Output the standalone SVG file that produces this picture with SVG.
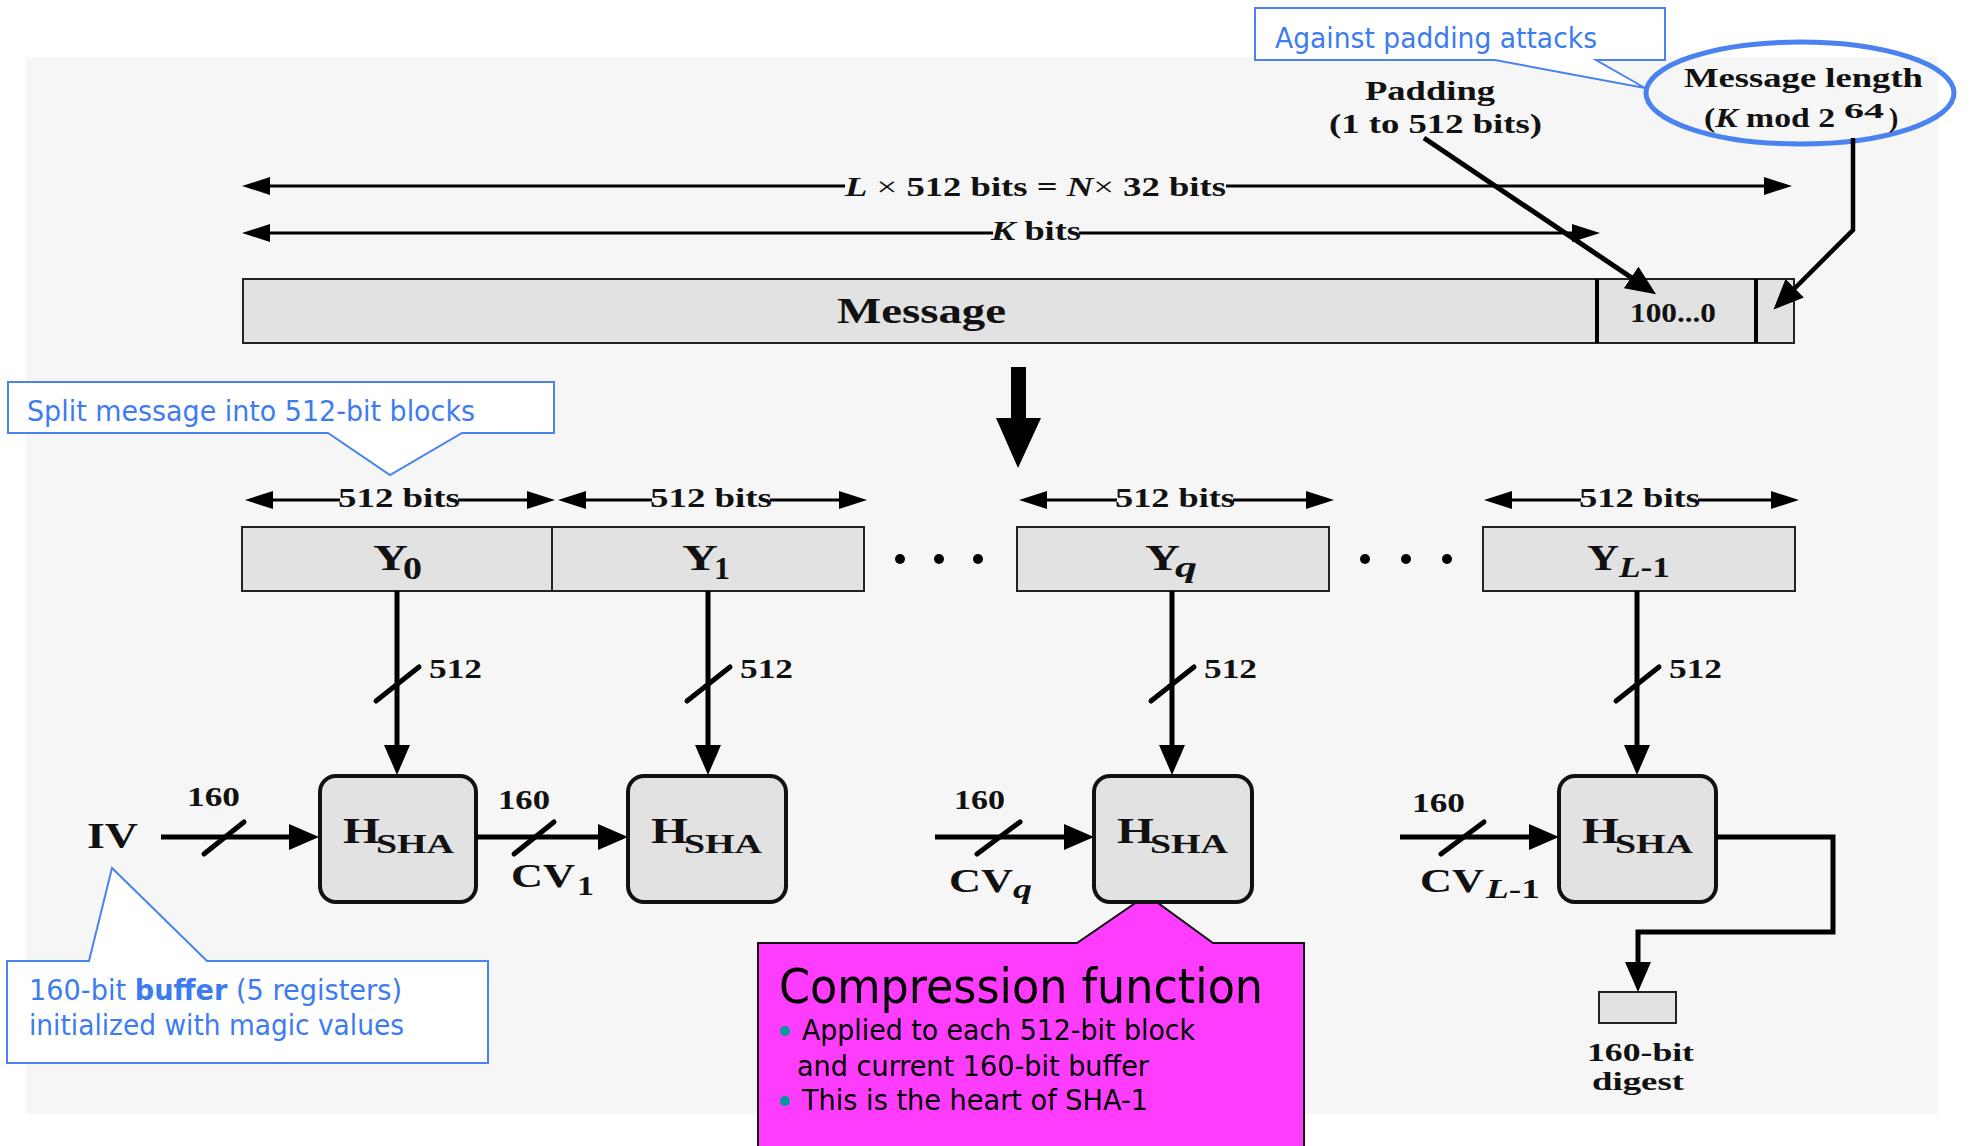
<svg xmlns="http://www.w3.org/2000/svg" width="1971" height="1146" viewBox="0 0 1971 1146">
<style>
.bg{fill:#f6f6f6}
.blk{fill:#e2e2e2;stroke:#222;stroke-width:2}
.hbox{fill:#e2e2e2;stroke:#111;stroke-width:4}
.ser{font-family:"Liberation Serif","Times New Roman",serif;font-weight:bold;fill:#111}
.it{font-style:italic}
.dim{stroke:#000;stroke-width:3;fill:none}
.thick{stroke:#000;stroke-width:5;fill:none}
.slash{stroke:#000;stroke-width:5;stroke-linecap:round}
.call{fill:#fff;stroke:#4a82f0;stroke-width:2}
.ctext{font-family:"DejaVu Sans Condensed","Liberation Sans Narrow","Liberation Sans",sans-serif;fill:#3d7cf0;font-size:28px}
.mtext{font-family:"DejaVu Sans Condensed","Liberation Sans Narrow","Liberation Sans",sans-serif;fill:#000}
</style>
<defs>
<marker id="dimHead" markerUnits="userSpaceOnUse" viewBox="0 0 28 18" markerWidth="28" markerHeight="18" refX="2" refY="9" orient="auto-start-reverse">
<path d="M0,0 L28,9 L0,18 Z" fill="#000"/>
</marker>
<marker id="head" markerUnits="userSpaceOnUse" viewBox="0 0 30 26" markerWidth="30" markerHeight="26" refX="1" refY="13" orient="auto">
<path d="M0,0 L30,13 L0,26 Z" fill="#000"/>
</marker>
</defs>

<rect class="bg" x="26" y="57" width="1912" height="1057"/>

<!-- callouts -->
<g id="callout-padding">
<path class="call" d="M1255,8 H1665 V60 H1596 L1645,88 L1495,60 H1255 Z"/>
<text class="ctext" x="1275" y="48" textLength="322" lengthAdjust="spacingAndGlyphs">Against padding attacks</text>
</g>
<g id="callout-split">
<path class="call" d="M8,382 H554 V433 H462 L390,475 L328,433 H8 Z"/>
<text class="ctext" x="27" y="421" textLength="448" lengthAdjust="spacingAndGlyphs">Split message into 512-bit blocks</text>
</g>
<g id="callout-iv">
<path class="call" d="M7,961 H89 L112,868 L207,961 H488 V1063 H7 Z"/>
<text class="ctext" x="29" y="1000" textLength="373" lengthAdjust="spacingAndGlyphs">160-bit <tspan font-weight="bold">buffer</tspan> (5 registers)</text>
<text class="ctext" x="29" y="1035" textLength="375" lengthAdjust="spacingAndGlyphs">initialized with magic values</text>
</g>
<g id="callout-compression">
<path d="M758,943 H1077 L1147,895 L1213,943 H1304 V1150 H758 Z" fill="#fd3cfd" stroke="#111" stroke-width="2"/>
<text class="mtext" x="779" y="1003" font-size="48" textLength="484" lengthAdjust="spacingAndGlyphs">Compression function</text>
<circle cx="785" cy="1031" r="5" fill="#009a9a"/>
<text class="mtext" x="802" y="1040" font-size="28" textLength="393" lengthAdjust="spacingAndGlyphs">Applied to each 512-bit block</text>
<text class="mtext" x="797" y="1076" font-size="28" textLength="352" lengthAdjust="spacingAndGlyphs">and current 160-bit buffer</text>
<circle cx="785" cy="1101" r="5" fill="#009a9a"/>
<text class="mtext" x="802" y="1110" font-size="28" textLength="346" lengthAdjust="spacingAndGlyphs">This is the heart of SHA-1</text>
</g>

<!-- top labels -->
<g id="msglen-label">
<ellipse cx="1800" cy="93" rx="154" ry="51" fill="none" stroke="#4a82f0" stroke-width="5"/>
<text class="ser" x="1684" y="87" font-size="28" textLength="239" lengthAdjust="spacingAndGlyphs">Message length</text>
<text class="ser" x="1704" y="127" font-size="28" textLength="131" lengthAdjust="spacingAndGlyphs">(<tspan class="it">K</tspan> mod 2</text>
<text class="ser" x="1844" y="118" font-size="20" textLength="40" lengthAdjust="spacingAndGlyphs">64</text>
<text class="ser" x="1889" y="127" font-size="28">)</text>
</g>
<g id="padding-label">
<text class="ser" x="1365" y="100" font-size="27" textLength="130" lengthAdjust="spacingAndGlyphs">Padding</text>
<text class="ser" x="1329" y="133" font-size="27" textLength="213" lengthAdjust="spacingAndGlyphs">(1 to 512 bits)</text>
</g>

<!-- message bar -->
<g id="message">
<rect class="blk" x="243" y="279" width="1551" height="64"/>
<line x1="1597" y1="279" x2="1597" y2="343" stroke="#000" stroke-width="4"/>
<line x1="1756" y1="279" x2="1756" y2="343" stroke="#000" stroke-width="4"/>
<text class="ser" x="837" y="323" font-size="36" textLength="169" lengthAdjust="spacingAndGlyphs">Message</text>
<text class="ser" x="1630" y="322" font-size="28" textLength="86" lengthAdjust="spacingAndGlyphs">100...0</text>
</g>

<!-- blocks -->
<g id="Y0">
<rect class="blk" x="242" y="527" width="310" height="64"/>
<text class="ser" x="373" y="570" font-size="36" textLength="35" lengthAdjust="spacingAndGlyphs">Y</text>
<text class="ser" x="403" y="579" font-size="32" textLength="19" lengthAdjust="spacingAndGlyphs">0</text>
</g>
<g id="Y1">
<rect class="blk" x="552" y="527" width="312" height="64"/>
<text class="ser" x="682" y="570" font-size="36" textLength="36" lengthAdjust="spacingAndGlyphs">Y</text>
<text class="ser" x="714" y="579" font-size="32" textLength="16" lengthAdjust="spacingAndGlyphs">1</text>
</g>
<g id="dots1">
<circle cx="900" cy="559" r="5"/><circle cx="939" cy="559" r="5"/><circle cx="978" cy="559" r="5"/>
</g>
<g id="Yq">
<rect class="blk" x="1017" y="527" width="312" height="64"/>
<text class="ser" x="1145" y="570" font-size="36" textLength="35" lengthAdjust="spacingAndGlyphs">Y</text>
<text class="ser it" x="1175" y="577" font-size="30" textLength="22" lengthAdjust="spacingAndGlyphs">q</text>
</g>
<g id="dots2">
<circle cx="1365" cy="559" r="5"/><circle cx="1406" cy="559" r="5"/><circle cx="1447" cy="559" r="5"/>
</g>
<g id="YL-1">
<rect class="blk" x="1483" y="527" width="312" height="64"/>
<text class="ser" x="1587" y="570" font-size="36" textLength="32" lengthAdjust="spacingAndGlyphs">Y</text>
<text class="ser" x="1619" y="577" font-size="30" textLength="51" lengthAdjust="spacingAndGlyphs"><tspan class="it">L</tspan>-1</text>
</g>

<!-- compression boxes -->
<g id="H1">
<rect class="hbox" x="320" y="776" width="156" height="126" rx="16"/>
<text class="ser" x="343" y="843" font-size="36" textLength="37" lengthAdjust="spacingAndGlyphs">H</text>
<text class="ser" x="376" y="853" font-size="28" textLength="78" lengthAdjust="spacingAndGlyphs">SHA</text>
</g>
<g id="H2">
<rect class="hbox" x="628" y="776" width="158" height="126" rx="16"/>
<text class="ser" x="651" y="843" font-size="36" textLength="37" lengthAdjust="spacingAndGlyphs">H</text>
<text class="ser" x="684" y="853" font-size="28" textLength="78" lengthAdjust="spacingAndGlyphs">SHA</text>
</g>
<g id="Hq">
<rect class="hbox" x="1094" y="776" width="158" height="126" rx="16"/>
<text class="ser" x="1117" y="843" font-size="36" textLength="37" lengthAdjust="spacingAndGlyphs">H</text>
<text class="ser" x="1150" y="853" font-size="28" textLength="78" lengthAdjust="spacingAndGlyphs">SHA</text>
</g>
<g id="HL">
<rect class="hbox" x="1559" y="776" width="157" height="126" rx="16"/>
<text class="ser" x="1582" y="843" font-size="36" textLength="37" lengthAdjust="spacingAndGlyphs">H</text>
<text class="ser" x="1615" y="853" font-size="28" textLength="78" lengthAdjust="spacingAndGlyphs">SHA</text>
</g>
<g id="IV">
<text class="ser" x="87" y="848" font-size="36" textLength="51" lengthAdjust="spacingAndGlyphs">IV</text>
</g>
<g id="digest">
<rect class="blk" x="1599" y="992" width="77" height="31"/>
<text class="ser" x="1587" y="1061" font-size="26" textLength="107" lengthAdjust="spacingAndGlyphs">160-bit</text>
<text class="ser" x="1592" y="1090" font-size="26" textLength="92" lengthAdjust="spacingAndGlyphs">digest</text>
</g>

<!-- connectors -->
<g id="connectors">
<line class="dim" x1="268" y1="186" x2="845" y2="186" marker-start="url(#dimHead)"/>
<line class="dim" x1="1226" y1="186" x2="1766" y2="186" marker-end="url(#dimHead)"/>
<line class="dim" x1="268" y1="233" x2="993" y2="233" marker-start="url(#dimHead)"/>
<line class="dim" x1="1079" y1="233" x2="1574" y2="233" marker-end="url(#dimHead)"/>
<line class="dim" x1="271" y1="500" x2="340" y2="500" marker-start="url(#dimHead)"/>
<line class="dim" x1="458" y1="500" x2="529" y2="500" marker-end="url(#dimHead)"/>
<line class="dim" x1="584" y1="500" x2="652" y2="500" marker-start="url(#dimHead)"/>
<line class="dim" x1="770" y1="500" x2="841" y2="500" marker-end="url(#dimHead)"/>
<line class="dim" x1="1045" y1="500" x2="1117" y2="500" marker-start="url(#dimHead)"/>
<line class="dim" x1="1233" y1="500" x2="1308" y2="500" marker-end="url(#dimHead)"/>
<line class="dim" x1="1510" y1="500" x2="1581" y2="500" marker-start="url(#dimHead)"/>
<line class="dim" x1="1698" y1="500" x2="1773" y2="500" marker-end="url(#dimHead)"/>
<line x1="1424" y1="138" x2="1632" y2="278" stroke="#000" stroke-width="5" marker-end="url(#head)"/>
<polyline points="1853,138 1853,230 1794,289" fill="none" stroke="#000" stroke-width="4.5" marker-end="url(#head)"/>
<path d="M1011,367 H1026 V418 H1041 L1018,468 L996,418 H1011 Z" fill="#000"/>
<line class="thick" x1="397" y1="591" x2="397" y2="746" marker-end="url(#head)"/>
<line class="thick" x1="708" y1="591" x2="708" y2="746" marker-end="url(#head)"/>
<line class="thick" x1="1172" y1="591" x2="1172" y2="746" marker-end="url(#head)"/>
<line class="thick" x1="1637" y1="591" x2="1637" y2="746" marker-end="url(#head)"/>
<line class="slash" x1="376" y1="701" x2="419" y2="667"/>
<line class="slash" x1="687" y1="701" x2="730" y2="667"/>
<line class="slash" x1="1151" y1="701" x2="1194" y2="667"/>
<line class="slash" x1="1616" y1="701" x2="1659" y2="667"/>
<line class="thick" x1="161" y1="837" x2="290" y2="837" marker-end="url(#head)"/>
<line class="thick" x1="476" y1="837" x2="599" y2="837" marker-end="url(#head)"/>
<line class="thick" x1="935" y1="837" x2="1065" y2="837" marker-end="url(#head)"/>
<line class="thick" x1="1400" y1="837" x2="1530" y2="837" marker-end="url(#head)"/>
<line class="slash" x1="204" y1="854" x2="244" y2="822"/>
<line class="slash" x1="514" y1="854" x2="554" y2="822"/>
<line class="slash" x1="977" y1="854" x2="1020" y2="822"/>
<line class="slash" x1="1441" y1="854" x2="1484" y2="822"/>
<polyline class="thick" points="1716,837 1833,837 1833,932 1638,932 1638,963" marker-end="url(#head)"/>
</g>

<!-- connector labels -->
<g id="labels">
<text class="ser" x="845" y="196" font-size="28" textLength="381" lengthAdjust="spacingAndGlyphs"><tspan class="it">L</tspan><tspan font-weight="normal"> × </tspan>512 bits = <tspan class="it">N</tspan><tspan font-weight="normal">× </tspan>32 bits</text>
<text class="ser" x="991" y="240" font-size="28" textLength="90" lengthAdjust="spacingAndGlyphs"><tspan class="it">K</tspan> bits</text>
<text class="ser" x="338" y="507" font-size="27" textLength="122" lengthAdjust="spacingAndGlyphs">512 bits</text>
<text class="ser" x="650" y="507" font-size="27" textLength="122" lengthAdjust="spacingAndGlyphs">512 bits</text>
<text class="ser" x="1115" y="507" font-size="27" textLength="120" lengthAdjust="spacingAndGlyphs">512 bits</text>
<text class="ser" x="1579" y="507" font-size="27" textLength="121" lengthAdjust="spacingAndGlyphs">512 bits</text>
<text class="ser" x="429" y="678" font-size="27" textLength="53" lengthAdjust="spacingAndGlyphs">512</text>
<text class="ser" x="740" y="678" font-size="27" textLength="53" lengthAdjust="spacingAndGlyphs">512</text>
<text class="ser" x="1204" y="678" font-size="27" textLength="53" lengthAdjust="spacingAndGlyphs">512</text>
<text class="ser" x="1669" y="678" font-size="27" textLength="53" lengthAdjust="spacingAndGlyphs">512</text>
<text class="ser" x="187" y="806" font-size="27" textLength="53" lengthAdjust="spacingAndGlyphs">160</text>
<text class="ser" x="498" y="809" font-size="27" textLength="52" lengthAdjust="spacingAndGlyphs">160</text>
<text class="ser" x="954" y="809" font-size="27" textLength="51" lengthAdjust="spacingAndGlyphs">160</text>
<text class="ser" x="1412" y="812" font-size="27" textLength="53" lengthAdjust="spacingAndGlyphs">160</text>
<text class="ser" x="511" y="887" font-size="34" textLength="64" lengthAdjust="spacingAndGlyphs">CV</text>
<text class="ser" x="577" y="895" font-size="28" textLength="17" lengthAdjust="spacingAndGlyphs">1</text>
<text class="ser" x="949" y="892" font-size="34" textLength="64" lengthAdjust="spacingAndGlyphs">CV</text>
<text class="ser it" x="1013" y="898" font-size="28" textLength="19" lengthAdjust="spacingAndGlyphs">q</text>
<text class="ser" x="1420" y="892" font-size="34" textLength="64" lengthAdjust="spacingAndGlyphs">CV</text>
<text class="ser" x="1486" y="898" font-size="28" textLength="54" lengthAdjust="spacingAndGlyphs"><tspan class="it">L</tspan>-1</text>
</g>
</svg>
